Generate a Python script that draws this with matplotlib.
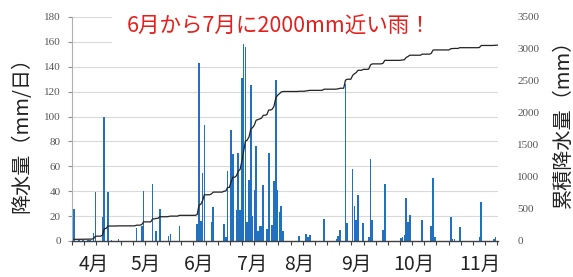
import matplotlib.pyplot as plt
import numpy as np
from matplotlib.patches import Rectangle

plt.rcParams['font.family'] = ['Noto Sans CJK JP', 'DejaVu Sans']

# daily rainfall (mm/day), index = day from start of record, only rainy days listed
rain_days = [0, 3, 5, 8, 9, 11, 12, 16, 17, 19, 21, 25, 35, 38, 39, 44, 46, 48, 53, 54, 59,
             69, 70, 71, 72, 73, 77, 78, 84, 85, 86, 88, 89, 91, 92, 93, 94, 95, 96, 97, 98, 99,
             100, 101, 102, 103, 104, 105, 106, 108, 109, 111, 112, 113, 114, 115, 116, 117,
             126, 130, 131, 132, 140, 147, 148, 149, 152, 153, 156, 157, 158, 159, 162, 165,
             166, 167, 173, 174, 183, 184, 185, 186, 187, 188, 195, 200, 201, 202, 211, 212,
             213, 216, 227, 228, 235, 236]
rain_mm = [26, 1, 1, 1, 1, 6.5, 39, 19, 100, 39, 1, 2, 10.5, 12, 40, 46, 8, 26, 4, 6, 12,
           14, 143, 16, 55, 93, 15, 27, 14, 3, 56, 89, 70, 25, 71, 25, 131, 158, 156, 15, 49, 125,
           20, 41, 76, 8, 12, 12, 45, 10, 71, 13, 48, 129, 41, 23, 28, 8,
           4, 6, 3, 5, 18, 2, 4, 9, 126, 14.5, 58, 28, 17, 37, 14.5, 3,
           66, 16.5, 9, 46, 2.5, 3, 5, 34.5, 15, 20.5, 16.5, 12, 50.5, 3.5, 19.5, 2,
           2, 11.5, 3, 31.5, 2, 3]
n_days = 238

month_labels = ['4月', '5月', '6月', '7月', '8月', '9月', '10月', '11月']
month_pos = [11, 40, 70, 100, 126, 158, 190.5, 227]

title = '6月から7月に2000mm近い雨！'

daily = np.zeros(n_days)
daily[rain_days] = rain_mm
cum = np.cumsum(daily)
days = np.arange(n_days)

fig = plt.figure(figsize=(5.73, 2.77), dpi=100)
ax = fig.add_axes([72 / 573, 36 / 277, 426 / 573, 224 / 277])

ax.set_axisbelow(True)
ax.grid(axis='y', color='#d9d9d9', lw=0.8)
ax.bar(days, daily, width=0.95, color='#2271c0', zorder=2)
ax.set_xlim(-0.6, n_days - 0.6)
ax.set_ylim(0, 180)
ax.set_yticks(np.arange(0, 181, 20))

# white box behind the headline hides the top gridlines
ax.add_patch(Rectangle((0.094, 0.875), 0.906, 0.125, transform=ax.transAxes,
                       facecolor='white', edgecolor='none', zorder=1))

for s in ['top', 'right']:
    ax.spines[s].set_visible(False)
ax.spines['left'].set_color('#b0b0b0')
ax.spines['left'].set_linewidth(0.8)
ax.spines['bottom'].set_color('#404040')
ax.spines['bottom'].set_linewidth(1.0)

ax.tick_params(axis='y', direction='out', length=3, width=0.8, color='#909090',
               pad=5, labelsize=8, labelcolor='#555555')
for lbl in ax.get_yticklabels():
    lbl.set_family('Liberation Serif')

ax.set_xticks(month_pos, month_labels)
ax.set_xticks(np.arange(-1.1, n_days, 6.8), minor=True)
ax.tick_params(axis='x', which='major', length=0, pad=9, labelsize=14, labelcolor='#222222')
ax.tick_params(axis='x', which='minor', direction='out', length=3, width=0.8, color='#404040')

ax2 = ax.twinx()
ax2.plot(days, cum, color='#222222', lw=0.9)
ax2.set_ylim(0, 3500)
ax2.set_yticks(np.arange(0, 3501, 500))
for s in ['top', 'right', 'left', 'bottom']:
    ax2.spines[s].set_visible(False)
ax2.tick_params(axis='y', length=0, pad=14, labelsize=8, labelcolor='#555555')
for lbl in ax2.get_yticklabels():
    lbl.set_family('Liberation Serif')

ax.text(0.487, 0.955, title, transform=ax.transAxes, ha='center', va='center',
        fontsize=15.5, color='#e3201b', zorder=5)

fig.text(22 / 573, 0.53, '降水量（mm/日）', rotation=90, ha='center', va='center',
         fontsize=14.5, color='#222222')
fig.text(563 / 573, 0.57, '累積降水量（mm）', rotation=90, ha='center', va='center',
         fontsize=14.5, color='#222222')

fig.savefig('out.png', dpi=100)
